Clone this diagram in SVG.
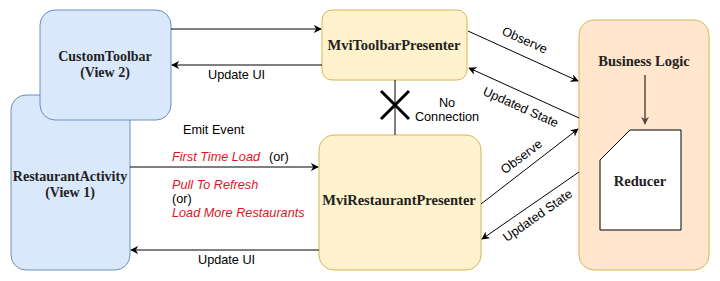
<svg xmlns="http://www.w3.org/2000/svg" width="720" height="281" viewBox="0 0 720 281">
<defs>
<marker id="ah" viewBox="0 0 10 10" refX="9" refY="5" markerWidth="8" markerHeight="8" orient="auto-start-reverse" markerUnits="userSpaceOnUse">
<path d="M0,0 L10,5 L0,10 L3,5 Z" fill="#000"/>
</marker>
<marker id="ah2" viewBox="0 0 10 10" refX="9" refY="5" markerWidth="8" markerHeight="8" orient="auto" markerUnits="userSpaceOnUse">
<path d="M0,0 L10,5 L0,10 L3,5 Z" fill="#5a4a42"/>
</marker>
</defs>
<style>
.blue{fill:#dae8fc;stroke:#6c8ebf;stroke-width:1}
.yellow{fill:#fff2cc;stroke:#d6b656;stroke-width:1}
.orange{fill:#ffe6cc;stroke:#d6b656;stroke-width:1}
.title{font-family:"Liberation Serif","DejaVu Serif",serif;font-weight:bold;font-size:14.5px;fill:#222;text-anchor:middle}
.title2{font-family:"Liberation Serif","DejaVu Serif",serif;font-weight:bold;font-size:14px;fill:#222;text-anchor:middle}
.lbl{font-family:"Liberation Sans",Arial,sans-serif;font-size:12.7px;fill:#000}
.red{font-family:"Liberation Sans",Arial,sans-serif;font-size:12.7px;fill:#e0141e;font-style:italic}
.conn{stroke:#000;stroke-width:1;fill:none;marker-end:url(#ah)}
</style>
<rect width="720" height="281" fill="#fff"/>
<g id="restaurantActivity">
<rect class="blue" x="11" y="95" width="119" height="175" rx="15"/>
<text class="title2" x="70" y="181">RestaurantActivity</text>
<text class="title2" x="70" y="197">(View 1)</text>
</g>
<g id="customToolbar">
<rect class="blue" x="40" y="10" width="131" height="110" rx="15"/>
<text class="title2" x="105" y="61">CustomToolbar</text>
<text class="title2" x="105" y="77">(View 2)</text>
</g>
<g id="mviToolbarPresenter">
<rect class="yellow" x="322" y="10" width="145" height="70" rx="10"/>
<text class="title" x="394" y="50">MviToolbarPresenter</text>
</g>
<g id="mviRestaurantPresenter">
<rect class="yellow" x="319" y="135" width="162" height="135" rx="15"/>
<text class="title" x="399" y="205">MviRestaurantPresenter</text>
</g>
<g id="businessLogic">
<rect class="orange" x="579" y="20" width="130" height="250" rx="15"/>
<text class="title" x="644" y="66">Business Logic</text>
<line x1="645" y1="75" x2="645" y2="124" stroke="#5a4a42" stroke-width="1.5" marker-end="url(#ah2)"/>
</g>
<g id="reducer">
<path d="M630,130 H681 V230 H600 V160 Z" fill="#fff" stroke="#000" stroke-width="1"/>
<text class="title" x="640" y="186">Reducer</text>
</g>
<g id="connectors">
<line class="conn" x1="171" y1="29" x2="321" y2="29"/>
<line class="conn" x1="322" y1="65" x2="172" y2="65"/>
<text class="lbl" x="208" y="79">Update UI</text>
<text class="lbl" x="183" y="134">Emit Event</text>
<line class="conn" x1="130" y1="167" x2="318" y2="167"/>
<text class="red" x="172" y="161">First Time Load</text>
<text class="lbl" x="269" y="161">(or)</text>
<text class="red" x="172" y="189">Pull To Refresh</text>
<text class="lbl" x="172" y="203">(or)</text>
<text class="red" x="172" y="217">Load More Restaurants</text>
<line class="conn" x1="319" y1="250" x2="131" y2="250"/>
<text class="lbl" x="198" y="264">Update UI</text>
<line x1="395" y1="80" x2="395" y2="135" stroke="#000" stroke-width="1"/>
<path d="M381,91 L409,119 M409,91 L381,119" stroke="#000" stroke-width="3" fill="none"/>
<text class="lbl" x="447" y="107" text-anchor="middle">No</text>
<text class="lbl" x="447" y="121" text-anchor="middle">Connection</text>
<line class="conn" x1="468" y1="31" x2="578" y2="81"/>
<text class="lbl" text-anchor="middle" transform="translate(523,44) rotate(24)">Observe</text>
<line class="conn" x1="579" y1="118" x2="469" y2="68"/>
<text class="lbl" text-anchor="middle" transform="translate(519,111) rotate(24)">Updated State</text>
<line class="conn" x1="481" y1="204" x2="578" y2="129"/>
<text class="lbl" text-anchor="middle" transform="translate(524,160) rotate(-37)">Observe</text>
<line class="conn" x1="579" y1="172" x2="482" y2="239"/>
<text class="lbl" text-anchor="middle" transform="translate(540,219) rotate(-35)">Updated State</text>
</g>
</svg>
